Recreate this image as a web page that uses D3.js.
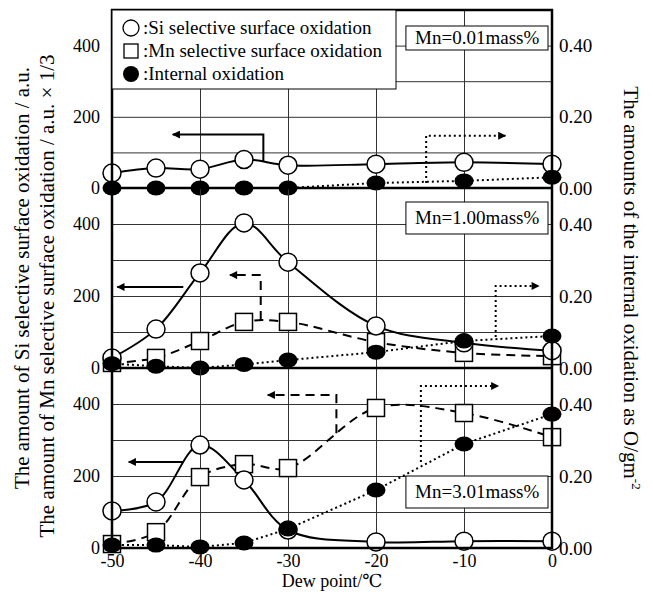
<!DOCTYPE html>
<html>
<head>
<meta charset="utf-8">
<script src="https://cdn.jsdelivr.net/npm/d3@7"></script>
<style>
  body { margin: 0; background: #fff; }
  svg { display: block; font-family: "Liberation Serif", "DejaVu Serif", serif; }
</style>
</head>
<body>
<svg id="chart" width="653" height="597"></svg>
<script>
const dewPoint = [-50, -45, -40, -35, -30, -20, -10, 0];
const panelLabels = ["Mn=0.01mass%", "Mn=1.00mass%", "Mn=3.01mass%"];
const siValues = [
  [42, 56, 53, 80, 64, 67, 72, 67],
  [28, 108, 264, 403, 294, 117, 70, 48],
  [103, 128, 286, 189, 50, 17, 19, 19],
];
const mnValues = [
  null,
  [14, 28, 75, 128, 128, 72, 42, 33],
  [11, 44, 197, 233, 222, 389, 375, 308],
];
const internalValues = [
  [0, 0, 0, 0, 0, 0.014, 0.02, 0.03],
  [0.012, 0.005, 0, 0.01, 0.022, 0.044, 0.075, 0.089],
  [0.008, 0.008, 0.003, 0.014, 0.053, 0.161, 0.289, 0.372],
];
const leftTicks = [0, 200, 400];
const rightTicks = [0, 0.2, 0.4];
const xTicks = [-50, -40, -30, -20, -10, 0];
const legendLabels = [
  ":Si selective surface oxidation",
  ":Mn selective surface oxidation",
  ":Internal oxidation",
];
// arrows pointing to the axis each series is read on (data units)
const arrows = [
  { panel: 0, kind: "solid", axis: "left", pts: [[-32.8, 76], [-32.8, 150], [-43.1, 150]] },
  { panel: 0, kind: "dotted", axis: "right", pts: [[-14.3, 0.014], [-14.3, 0.147], [-5.3, 0.147]] },
  { panel: 1, kind: "solid", axis: "left", pts: [[-41.9, 225], [-49.4, 225]] },
  { panel: 1, kind: "dashed", axis: "left", pts: [[-33.1, 133], [-33.1, 258], [-36.6, 258]] },
  { panel: 1, kind: "dotted", axis: "right", pts: [[-6.4, 0.086], [-6.4, 0.228], [-1.5, 0.228]] },
  { panel: 2, kind: "solid", axis: "left", pts: [[-41.9, 239], [-48.1, 239]] },
  { panel: 2, kind: "dashed", axis: "left", pts: [[-24.5, 319], [-24.5, 425], [-32.3, 425]] },
  { panel: 2, kind: "dotted", axis: "right", pts: [[-14.9, 0.239], [-14.9, 0.45], [-6.1, 0.45]] },
];

const svg = d3.select("#chart");
const serif = "Liberation Serif, DejaVu Serif, serif";
const left = 112, right = 552;
const panelTops = [10, 188, 368];
const panelBottoms = [188, 368, 548];
const dash = { solid: null, dashed: "9,6", dotted: "2,3" };

const x = d3.scaleLinear().domain([-50, 0]).range([left, right]);

const defs = svg.append("defs");
defs.append("marker")
  .attr("id", "head")
  .attr("viewBox", "0 0 10 10")
  .attr("refX", 9).attr("refY", 5)
  .attr("markerWidth", 10).attr("markerHeight", 8)
  .attr("markerUnits", "userSpaceOnUse")
  .attr("orient", "auto")
  .append("path").attr("d", "M0,0L10,5L0,10Z").attr("fill", "#000");

panelTops.forEach((top, i) => {
  const bottom = panelBottoms[i];
  const yL = d3.scaleLinear().domain([0, 500]).range([bottom, top]);
  const yR = d3.scaleLinear().domain([0, 0.5]).range([bottom, top]);
  const g = svg.append("g");

  // grid
  g.append("g")
    .attr("transform", `translate(${left},0)`)
    .call(d3.axisLeft(yL).tickValues([100, 200, 300, 400]).tickSize(-(right - left)).tickFormat(""))
    .call((a) => a.select(".domain").remove())
    .call((a) => a.selectAll("line").attr("stroke", "#333").attr("stroke-width", 1));
  g.append("g")
    .attr("transform", `translate(0,${bottom})`)
    .call(d3.axisBottom(x).tickValues([-40, -30, -20, -10]).tickSize(-(bottom - top)).tickFormat(""))
    .call((a) => a.select(".domain").remove())
    .call((a) => a.selectAll("line").attr("stroke", "#333").attr("stroke-width", 1));

  // tick labels
  g.append("g")
    .attr("transform", `translate(${left},0)`)
    .attr("font-family", serif)
    .call(d3.axisLeft(yL).tickValues(leftTicks).tickSize(0).tickPadding(12))
    .call((a) => a.select(".domain").remove())
    .call((a) => a.selectAll("text").attr("font-size", 18).attr("font-family", serif).attr("fill", "#000"));
  g.append("g")
    .attr("transform", `translate(${right},0)`)
    .attr("font-family", serif)
    .call(d3.axisRight(yR).tickValues(rightTicks).tickSize(0).tickPadding(7).tickFormat(d3.format(".2f")))
    .call((a) => a.select(".domain").remove())
    .call((a) => a.selectAll("text").attr("font-size", 19).attr("font-family", serif).attr("fill", "#000"));

  // panel label box
  const box = g.append("g");
  const boxTop = i === 2 ? yL(200) : top + (i === 0 ? 16 : 14);
  const boxH = i === 0 ? 24 : 32;
  box.append("rect")
    .attr("x", x(-16.6)).attr("y", boxTop)
    .attr("width", x(0) - x(-16.6) - 4).attr("height", boxH)
    .attr("fill", "#fff").attr("stroke", "#000").attr("stroke-width", 1);
  box.append("text")
    .attr("x", x(-8.5)).attr("y", boxTop + boxH / 2 + 6)
    .attr("text-anchor", "middle").attr("font-size", 19)
    .text(panelLabels[i]);

  // arrows
  arrows.filter((a) => a.panel === i).forEach((a) => {
    const yy = a.axis === "left" ? yL : yR;
    g.append("path")
      .attr("d", d3.line()(a.pts.map((p) => [x(p[0]), yy(p[1])])))
      .attr("fill", "none").attr("stroke", "#000").attr("stroke-width", 2)
      .attr("stroke-dasharray", dash[a.kind])
      .attr("marker-end", "url(#head)");
  });

  // series lines
  const siPts = dewPoint.map((d, k) => [x(d), yL(siValues[i][k])]);
  g.append("path")
    .attr("d", d3.line().curve(d3.curveCatmullRom.alpha(0.5))(siPts))
    .attr("fill", "none").attr("stroke", "#000").attr("stroke-width", 2);
  let mnPts = null;
  if (mnValues[i]) {
    mnPts = dewPoint.map((d, k) => [x(d), yL(mnValues[i][k])]);
    g.append("path")
      .attr("d", d3.line().curve(d3.curveCatmullRom.alpha(0.5))(mnPts))
      .attr("fill", "none").attr("stroke", "#000").attr("stroke-width", 2)
      .attr("stroke-dasharray", dash.dashed);
  }
  const inPts = dewPoint.map((d, k) => [x(d), yR(internalValues[i][k])]);
  g.append("path")
    .attr("d", d3.line()(inPts))
    .attr("fill", "none").attr("stroke", "#000").attr("stroke-width", 2)
    .attr("stroke-dasharray", dash.dotted);

  // markers
  if (mnPts) {
    g.selectAll(".mn").data(mnPts).join("rect")
      .attr("x", (p) => p[0] - 8.5).attr("y", (p) => p[1] - 8.5)
      .attr("width", 17).attr("height", 17)
      .attr("fill", "#fff").attr("stroke", "#000").attr("stroke-width", 1.5);
  }
  g.selectAll(".si").data(siPts).join("circle")
    .attr("cx", (p) => p[0]).attr("cy", (p) => p[1]).attr("r", 9)
    .attr("fill", "#fff").attr("stroke", "#000").attr("stroke-width", 1.5);
  g.selectAll(".io").data(inPts).join("ellipse")
    .attr("cx", (p) => p[0]).attr("cy", (p) => p[1]).attr("rx", 9.5).attr("ry", 7.5)
    .attr("fill", "#000");
});

// frame
svg.append("rect")
  .attr("x", left).attr("y", panelTops[0])
  .attr("width", right - left).attr("height", panelBottoms[2] - panelTops[0])
  .attr("fill", "none").attr("stroke", "#000").attr("stroke-width", 2.5);
panelBottoms.slice(0, 2).forEach((b) => {
  svg.append("line").attr("x1", left).attr("x2", right).attr("y1", b).attr("y2", b)
    .attr("stroke", "#000").attr("stroke-width", 2.5);
});

// legend
const lg = svg.append("g");
lg.append("rect")
  .attr("x", left).attr("y", panelTops[0])
  .attr("width", 284).attr("height", 79)
  .attr("fill", "#fff").attr("stroke", "#000").attr("stroke-width", 1);
legendLabels.forEach((t, k) => {
  const cy = panelTops[0] + 18 + k * 23;
  if (k === 0) lg.append("circle").attr("cx", 131).attr("cy", cy).attr("r", 8).attr("fill", "#fff").attr("stroke", "#000").attr("stroke-width", 1.3);
  if (k === 1) lg.append("rect").attr("x", 124).attr("y", cy - 7).attr("width", 14).attr("height", 14).attr("fill", "#fff").attr("stroke", "#000").attr("stroke-width", 1.3);
  if (k === 2) lg.append("circle").attr("cx", 131).attr("cy", cy).attr("r", 8).attr("fill", "#000");
  lg.append("text").attr("x", 143).attr("y", cy + 6).attr("font-size", 19).text(t);
});

// x axis
svg.append("g")
  .attr("transform", `translate(0,${panelBottoms[2]})`)
  .attr("font-family", serif)
  .call(d3.axisBottom(x).tickValues(xTicks).tickSize(0).tickPadding(6).tickFormat((d) => String(d)))
  .call((a) => a.select(".domain").remove())
  .call((a) => a.selectAll("text").attr("font-size", 18).attr("font-family", serif).attr("fill", "#000"));

svg.append("text")
  .attr("x", x(-25)).attr("y", 587)
  .attr("text-anchor", "middle").attr("font-size", 18)
  .text("Dew point/℃");

// left axis titles
svg.append("text")
  .attr("transform", "translate(29,278) rotate(-90)")
  .attr("text-anchor", "middle").attr("font-size", 21)
  .text("The amount of Si selective surface oxidation / a.u.");
svg.append("text")
  .attr("transform", "translate(54,296) rotate(-90)")
  .attr("text-anchor", "middle").attr("font-size", 21)
  .text("The amount of Mn selective surface oxidation / a.u. × 1/3");

// right axis title
const rt = svg.append("text")
  .attr("transform", "translate(624,288) rotate(90)")
  .attr("text-anchor", "middle").attr("font-size", 21);
rt.append("tspan").text("The amounts of the internal oxidation as O/gm");
rt.append("tspan").attr("dy", -8).attr("font-size", 13).text("-2");
</script>
</body>
</html>
